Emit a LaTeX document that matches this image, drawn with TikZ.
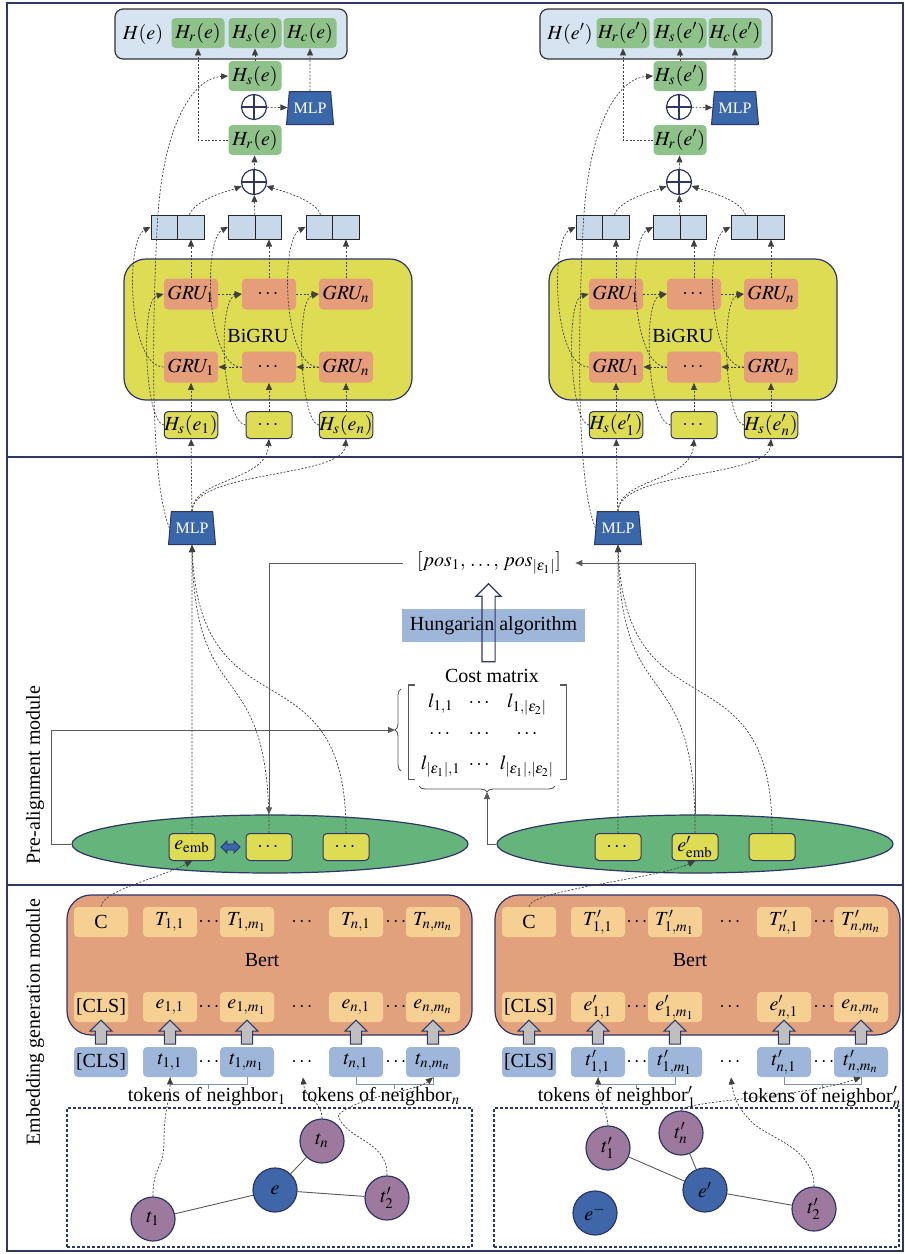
\documentclass[tikz,border=0pt]{standalone}
\usepackage{mathptmx}
\usepackage[no-math]{fontspec}
\setmainfont{Liberation Serif}
\usepackage{tikz}
\usetikzlibrary{arrows.meta, positioning, shapes.geometric, shapes.arrows, decorations.pathreplacing}
\usepackage{xcolor}
\usepackage{amsmath}

\definecolor{navyline}{RGB}{46,54,104}
\definecolor{barblue}{RGB}{214,228,241}
\definecolor{catblue}{RGB}{200,216,235}
\definecolor{boxgreen}{RGB}{143,193,138}
\definecolor{mlpblue}{RGB}{58,102,170}
\definecolor{gruyellow}{RGB}{222,220,82}
\definecolor{grusalmon}{RGB}{229,157,122}
\definecolor{bertorange}{RGB}{226,161,125}
\definecolor{bertcell}{RGB}{245,208,146}
\definecolor{tokblue}{RGB}{158,182,218}
\definecolor{ellgreen}{RGB}{100,180,124}
\definecolor{nbrpurple}{RGB}{158,121,158}
\definecolor{entblue}{RGB}{62,102,168}

\begin{document}
\begin{tikzpicture}[
>={Triangle[length=3.5pt,width=3pt]},
x=0.5pt, y=-0.5pt,
font=\fontsize{10}{12}\selectfont,
every node/.style={inner sep=0pt},
flow/.style={->, dash pattern=on 1pt off 0.8pt, line width=0.35pt, draw=black!75},
wire/.style={line width=0.45pt, draw=black!65},
tokline/.style={line width=0.45pt, draw=tokblue!80!black},
frameline/.style={draw=navyline, line width=0.7pt},
hbar/.style={draw=black!80, line width=0.6pt, fill=barblue, rounded corners=4pt, minimum width=116pt, minimum height=25pt},
gbox/.style={fill=boxgreen, rounded corners=2pt, minimum width=26.5pt, minimum height=15pt},
obox/.style={fill=grusalmon, rounded corners=2pt, minimum width=27pt, minimum height=15.5pt},
ybox/.style={draw=navyline, line width=0.5pt, fill=gruyellow, rounded corners=2pt, minimum width=23pt, minimum height=13.5pt},
cbox/.style={fill=bertcell, rounded corners=2pt, minimum width=27pt, minimum height=15pt},
tbox/.style={fill=tokblue, rounded corners=2pt, minimum width=27pt, minimum height=15pt},
gap/.style={minimum width=10pt, minimum height=15pt},
catbox/.style={draw=black!85, line width=0.5pt, fill=catblue, minimum width=26.5pt, minimum height=12pt,
  path picture={\draw[black!85, line width=0.5pt] (path picture bounding box.north) -- (path picture bounding box.south);}},
plus/.style={circle, draw=navyline, line width=0.6pt, fill=white, minimum size=12.5pt,
  path picture={\draw[navyline, line width=0.6pt] (path picture bounding box.north) -- (path picture bounding box.south)
    (path picture bounding box.west) -- (path picture bounding box.east);}},
mlp/.style={trapezium, trapezium angle=78, trapezium stretches=true, minimum width=23.5pt, minimum height=16.5pt,
  fill=mlpblue, draw=navyline, line width=0.5pt, text=white, font=\fontsize{8}{9}\selectfont},
bigru/.style={draw=navyline, line width=0.6pt, fill=gruyellow, rounded corners=11pt, minimum width=144pt, minimum height=70.5pt},
bertbox/.style={draw=navyline, line width=0.6pt, fill=bertorange, rounded corners=12pt, minimum width=202.5pt, minimum height=70pt},
ellbox/.style={ellipse, draw=navyline, line width=0.6pt, fill=ellgreen, minimum width=198pt, minimum height=29pt},
graphbox/.style={draw=navyline, line width=0.6pt, dash pattern=on 1.5pt off 1pt, minimum width=202.5pt, minimum height=69.5pt},
nbr/.style={circle, draw=navyline, line width=0.6pt, fill=nbrpurple, minimum size=22pt},
ent/.style={circle, draw=navyline, line width=0.6pt, fill=entblue, minimum size=22pt},
hung/.style={fill=tokblue, minimum width=91.5pt, minimum height=16.5pt},
hollow/.style={single arrow, shape border rotate=90, draw=navyline, line width=0.6pt, inner sep=3pt, minimum height=39pt, single arrow head extend=3pt},
lift/.style={single arrow, shape border rotate=90, draw=navyline, line width=0.5pt, fill=black!25, inner sep=2.6pt, minimum height=12pt, single arrow head extend=2.6pt},
dbl/.style={double arrow, draw=navyline, line width=0.4pt, fill=mlpblue, inner sep=1.3pt, minimum height=9.5pt, double arrow head extend=1.5pt},
]
\useasboundingbox (0,0) rectangle (905,1254);

%% frame and module labels
\draw[frameline] (7,3) rectangle (903,1251);
\draw[frameline] (7,457) -- (903,457);
\draw[frameline] (7,885) -- (903,885);
\node[rotate=90] (pam) at (35,775) {Pre-alignment module};
\node[rotate=90] (egm) at (35,1022) {Embedding generation module};

%% entity e: BiGRU encoder
% nodes
\node[hbar] (top) at (231,34) {};
\node (He) at (143,34) {$H(e)$};
\node[gbox] (Hr) at (198,33) {$H_r(e)$};
\node[gbox] (Hs) at (255,33) {$H_s(e)$};
\node[gbox] (Hc) at (310,33) {$H_c(e)$};
\node[gbox] (Hs2) at (255,76) {$H_s(e)$};
\node[plus] (p1) at (254,107) {};
\node[mlp] (M) at (310,108) {MLP};
\node[gbox] (Hr2) at (255,140) {$H_r(e)$};
\node[plus] (p2) at (254,182) {};
\node[catbox] (c1) at (177.5,227) {};
\node[catbox] (c2) at (255,227) {};
\node[catbox] (c3) at (332.5,227) {};
\node[bigru] (G) at (268,329.5) {};
\node (Gl) at (258,336) {BiGRU};
\node[obox] (f1) at (191,294) {$GRU_1$};
\node[obox] (f2) at (269,294) {$\cdots$};
\node[obox] (f3) at (346,294) {$GRU_n$};
\node[obox] (b1) at (191,367) {$GRU_1$};
\node[obox] (b2) at (269,367) {$\cdots$};
\node[obox] (b3) at (346,367) {$GRU_n$};
\node[ybox] (i1) at (191,425) {$H_s(e_1)$};
\node[ybox] (i2) at (269,425) {$\cdots$};
\node[ybox] (i3) at (346,425) {$H_s(e_n)$};
% arrows
\draw[flow] (f1) -- (f2);
\draw[flow] (f2) -- (f3);
\draw[flow] (b3) -- (b2);
\draw[flow] (b2) -- (b1);
\draw[flow] (i1) -- (b1);
\draw[flow] (i2) -- (b2);
\draw[flow] (i3) -- (b3);
\draw[flow] (i1.west) .. controls (145,422) and (140,300) .. (f1.west);
\draw[flow] (i2.west) .. controls (222,422) and (217,300) .. (f2.west);
\draw[flow] (i3.west) .. controls (300,422) and (295,300) .. (f3.west);
\draw[flow] (f1) -- (f1 |- c1.south);
\draw[flow] (f2) -- (f2 |- c2.south);
\draw[flow] (f3) -- (f3 |- c3.south);
\draw[flow] (b1.west) .. controls (128,367) and (125,240) .. (c1.west);
\draw[flow] (b2.west) .. controls (206,367) and (203,240) .. (c2.west);
\draw[flow] (b3.west) .. controls (283,367) and (280,240) .. (c3.west);
\draw[flow] ([xshift=6pt]c1.north) .. controls (195,200) and (225,192) .. (p2);
\draw[flow] (c2) -- (p2);
\draw[flow] ([xshift=-6pt]c3.north) .. controls (315,200) and (285,192) .. (p2);
\draw[flow] (p2) -- (Hr2);
\draw[flow] (Hr2.west) -| (Hr.south);
\draw[flow] (Hs2) -- (Hs);
\draw[flow] (p1) -- (M);
\draw[flow] (M) -- (Hc);

% MLP feeding the BiGRU
\node[mlp] (mlpL) at (192,528) {MLP};
\draw[flow] (mlpL) -- (i1);
\draw[flow] (mlpL.north) .. controls (193,478) and (266,482) .. (i2.south);
\draw[flow] (mlpL.north) .. controls (195,470) and (343,478) .. (i3.south);
\draw[flow] (mlpL.west) .. controls (150,480) and (152,330) .. (157,230) .. controls (162,120) and (195,78) .. (Hs2.west);

%% entity e': BiGRU encoder
\begin{scope}[xshift=212.5pt]
% nodes
\node[hbar] (top) at (231,34) {};
\node (He) at (145,34) {$H(e')$};
\node[gbox] (Hr) at (198,33) {$H_r(e')$};
\node[gbox] (Hs) at (255,33) {$H_s(e')$};
\node[gbox] (Hc) at (310,33) {$H_c(e')$};
\node[gbox] (Hs2) at (255,76) {$H_s(e')$};
\node[plus] (p1) at (254,107) {};
\node[mlp] (M) at (310,108) {MLP};
\node[gbox] (Hr2) at (255,140) {$H_r(e')$};
\node[plus] (p2) at (254,182) {};
\node[catbox] (c1) at (177.5,227) {};
\node[catbox] (c2) at (255,227) {};
\node[catbox] (c3) at (332.5,227) {};
\node[bigru] (G) at (268,329.5) {};
\node (Gl) at (258,336) {BiGRU};
\node[obox] (f1) at (191,294) {$GRU_1$};
\node[obox] (f2) at (269,294) {$\cdots$};
\node[obox] (f3) at (346,294) {$GRU_n$};
\node[obox] (b1) at (191,367) {$GRU_1$};
\node[obox] (b2) at (269,367) {$\cdots$};
\node[obox] (b3) at (346,367) {$GRU_n$};
\node[ybox] (i1) at (191,425) {$H_s(e'_1)$};
\node[ybox] (i2) at (269,425) {$\cdots$};
\node[ybox] (i3) at (346,425) {$H_s(e'_n)$};
% arrows
\draw[flow] (f1) -- (f2);
\draw[flow] (f2) -- (f3);
\draw[flow] (b3) -- (b2);
\draw[flow] (b2) -- (b1);
\draw[flow] (i1) -- (b1);
\draw[flow] (i2) -- (b2);
\draw[flow] (i3) -- (b3);
\draw[flow] (i1.west) .. controls (145,422) and (140,300) .. (f1.west);
\draw[flow] (i2.west) .. controls (222,422) and (217,300) .. (f2.west);
\draw[flow] (i3.west) .. controls (300,422) and (295,300) .. (f3.west);
\draw[flow] (f1) -- (f1 |- c1.south);
\draw[flow] (f2) -- (f2 |- c2.south);
\draw[flow] (f3) -- (f3 |- c3.south);
\draw[flow] (b1.west) .. controls (128,367) and (125,240) .. (c1.west);
\draw[flow] (b2.west) .. controls (206,367) and (203,240) .. (c2.west);
\draw[flow] (b3.west) .. controls (283,367) and (280,240) .. (c3.west);
\draw[flow] ([xshift=6pt]c1.north) .. controls (195,200) and (225,192) .. (p2);
\draw[flow] (c2) -- (p2);
\draw[flow] ([xshift=-6pt]c3.north) .. controls (315,200) and (285,192) .. (p2);
\draw[flow] (p2) -- (Hr2);
\draw[flow] (Hr2.west) -| (Hr.south);
\draw[flow] (Hs2) -- (Hs);
\draw[flow] (p1) -- (M);
\draw[flow] (M) -- (Hc);
\end{scope}

% MLP feeding the BiGRU
\node[mlp] (mlpR) at (618,528) {MLP};
\draw[flow] (mlpR) -- (i1);
\draw[flow] (mlpR.north) .. controls (619,478) and (691,482) .. (i2.south);
\draw[flow] (mlpR.north) .. controls (621,470) and (768,478) .. (i3.south);
\draw[flow] (mlpR.west) .. controls (576,480) and (578,330) .. (583,230) .. controls (588,120) and (620,78) .. (Hs2.west);

%% pre-alignment: cost matrix and Hungarian algorithm
\node[inner xsep=7pt] (pos) at (489,563) {$[pos_1,\, \ldots,\, pos_{|\varepsilon_1|}]$};
\node[hung] (hung) at (493.5,625.5) {Hungarian algorithm};
\node[hollow] (up) at (488.5,626) {};
\node (cost) at (492,676) {Cost matrix};
\node[inner xsep=4pt] (L) at (487.5,732) {{\arraycolsep=2pt\def\arraystretch{1.3}%
  $\begin{array}{ccc}
  l_{1,1} & \cdots & l_{1,|\varepsilon_2|}\\
  \cdots & \cdots & \cdots\\
  l_{|\varepsilon_1|,1} & \cdots & l_{|\varepsilon_1|,|\varepsilon_2|}
  \end{array}$}};
\draw[wire, line width=0.7pt] ([xshift=3pt]L.north west) -- (L.north west) -- (L.south west) -- ([xshift=3pt]L.south west);
\draw[wire, line width=0.7pt] ([xshift=-3pt]L.north east) -- (L.north east) -- (L.south east) -- ([xshift=-3pt]L.south east);
\draw[wire, decorate, decoration={brace, amplitude=3pt}] (401,771) -- (401,689);
\coordinate (bl) at (395,730);
\draw[wire, decorate, decoration={brace, amplitude=3pt}] (555,786) -- (419,786);
\coordinate (bb) at (487,792);

% entity embeddings of e
\node[ellbox] (E1) at (270,844) {};
\node[ybox] (embL) at (192,847) {$e_{\mathrm{emb}}$};
\node[ybox] (d1) at (269,847) {$\cdots$};
\node[ybox] (d2) at (346,847) {$\cdots$};
\node[dbl] (sw) at (230.5,847) {};
\draw[flow] (embL) -- (mlpL);
\draw[flow] (d1.north) .. controls (270,650) and (195,720) .. (mlpL.south);
\draw[flow] (d2.north) .. controls (347,640) and (200,740) .. (mlpL.south);
\draw[wire,->] (pos.west) -| (d1.north |- E1.north);
\draw[wire,->] (E1.west) -- ++(-20,0) |- (bl);

% entity embeddings of e'
\node[ellbox] (E2) at (695,844) {};
\node[ybox] (r1) at (618,847) {$\cdots$};
\node[ybox] (embR) at (695,847) {$e'_{\mathrm{emb}}$};
\node[ybox] (r3) at (772,847) {};
\draw[flow] (r1) -- (mlpR);
\draw[flow] (embR.north) .. controls (696,650) and (621,720) .. (mlpR.south);
\draw[flow] (r3.north) .. controls (773,640) and (626,740) .. (mlpR.south);
\draw[wire,->] (embR.north |- E2.north) |- (pos.east);
\draw[wire,->] (E2.west) -| (bb);

%% Bert for e
% nodes
\node[bertbox] (B) at (269.5,965) {};
\node (Bl) at (262,960) {Bert};
\node[cbox] (C) at (101,922) {C};
\node[cbox] (T11) at (170,922) {$T_{1,1}$};
\node[gap] (ta1) at (210,922) {$\cdots$};
\node[cbox] (T1m) at (247,922) {$T_{1,m_1}$};
\node[gap] (ta2) at (303,922) {$\cdots$};
\node[cbox] (Tn1) at (356,922) {$T_{n,1}$};
\node[gap] (ta3) at (397,922) {$\cdots$};
\node[cbox] (Tnm) at (433,922) {$T_{n,m_n}$};
\node[cbox] (cls) at (101,1007) {[CLS]};
\node[cbox] (e11) at (170,1007) {$e_{1,1}$};
\node[gap] (eb1) at (210,1007) {$\cdots$};
\node[cbox] (e1m) at (247,1007) {$e_{1,m_1}$};
\node[gap] (eb2) at (303,1007) {$\cdots$};
\node[cbox] (en1) at (356,1007) {$e_{n,1}$};
\node[gap] (eb3) at (397,1007) {$\cdots$};
\node[cbox] (enm) at (433,1007) {$e_{n,m_n}$};
\node[tbox] (k0) at (101,1062) {[CLS]};
\node[tbox] (k11) at (170,1062) {$t_{1,1}$};
\node[gap] (kg1) at (210,1062) {$\cdots$};
\node[tbox] (k1m) at (247,1062) {$t_{1,m_1}$};
\node[gap] (kg2) at (303,1062) {$\cdots$};
\node[tbox] (kn1) at (356,1062) {$t_{n,1}$};
\node[gap] (kg3) at (397,1062) {$\cdots$};
\node[tbox] (knm) at (433,1062) {$t_{n,m_n}$};
\node[lift] (u0) at (101,1035) {};
\node[lift] (u1) at (170,1035) {};
\node[lift] (u2) at (247,1035) {};
\node[lift] (u3) at (356,1035) {};
\node[lift] (u4) at (433,1035) {};
\coordinate (g1) at (208,1084);
\coordinate (g2) at (394.5,1084);
\draw[tokline] (k11.south) |- (g1) -| (k1m.south);
\draw[tokline] (g1) -- ++(0,5);
\draw[tokline] (kn1.south) |- (g2) -| (knm.south);
\draw[tokline] (g2) -- ++(0,5);
\node (nb1) at (207,1097) {tokens of neighbor$_1$};
\node (nbn) at (381,1097) {tokens of neighbor$_n$};
% neighbourhood graph of e
\node[graphbox] (N) at (269.5,1177.5) {};
\node[nbr] (t1) at (153,1219) {$t_1$};
\node[ent] (e) at (275,1190) {$e$};
\node[nbr] (tn) at (322,1141) {$t_n$};
\node[nbr] (t2) at (387,1198) {$t'_2$};
\draw[wire] (e) -- (t1);
\draw[wire] (e) -- (tn);
\draw[wire] (e) -- (t2);
% arrows
\draw[flow] (t1.north) .. controls (153,1165) and (164,1170) .. (164,1140) .. controls (164,1110) and (170,1100) .. (k11.south);
\draw[flow] (tn.north) .. controls (322,1100) and (305,1100) .. (kg2.south);
\draw[flow] (t2.north) .. controls (388,1140) and (345,1140) .. (338,1115) .. controls (360,1095) and (415,1092) .. (knm.south);
\draw[flow] (C.north) .. controls (103,890) and (160,878) .. (embL.south);

%% Bert for e'
\begin{scope}[xshift=214pt]
% nodes
\node[bertbox] (B) at (269.5,965) {};
\node (Bl) at (262,960) {Bert};
\node[cbox] (C) at (101,922) {C};
\node[cbox] (T11) at (170,922) {$T'_{1,1}$};
\node[gap] (ta1) at (210,922) {$\cdots$};
\node[cbox] (T1m) at (247,922) {$T'_{1,m_1}$};
\node[gap] (ta2) at (303,922) {$\cdots$};
\node[cbox] (Tn1) at (356,922) {$T'_{n,1}$};
\node[gap] (ta3) at (397,922) {$\cdots$};
\node[cbox] (Tnm) at (433,922) {$T'_{n,m_n}$};
\node[cbox] (cls) at (101,1007) {[CLS]};
\node[cbox] (e11) at (170,1007) {$e'_{1,1}$};
\node[gap] (eb1) at (210,1007) {$\cdots$};
\node[cbox] (e1m) at (247,1007) {$e'_{1,m_1}$};
\node[gap] (eb2) at (303,1007) {$\cdots$};
\node[cbox] (en1) at (356,1007) {$e'_{n,1}$};
\node[gap] (eb3) at (397,1007) {$\cdots$};
\node[cbox] (enm) at (433,1007) {$e_{n,m_n}$};
\node[tbox] (k0) at (101,1062) {[CLS]};
\node[tbox] (k11) at (170,1062) {$t'_{1,1}$};
\node[gap] (kg1) at (210,1062) {$\cdots$};
\node[tbox] (k1m) at (247,1062) {$t'_{1,m_1}$};
\node[gap] (kg2) at (303,1062) {$\cdots$};
\node[tbox] (kn1) at (356,1062) {$t'_{n,1}$};
\node[gap] (kg3) at (397,1062) {$\cdots$};
\node[tbox] (knm) at (433,1062) {$t'_{n,m_n}$};
\node[lift] (u0) at (101,1035) {};
\node[lift] (u1) at (170,1035) {};
\node[lift] (u2) at (247,1035) {};
\node[lift] (u3) at (356,1035) {};
\node[lift] (u4) at (433,1035) {};
\coordinate (g1) at (208,1084);
\coordinate (g2) at (394.5,1084);
\draw[tokline] (k11.south) |- (g1) -| (k1m.south);
\draw[tokline] (g1) -- ++(0,5);
\draw[tokline] (kn1.south) |- (g2) -| (knm.south);
\draw[tokline] (g2) -- ++(0,5);
\end{scope}
\node (nb1) at (617,1097) {tokens of neighbor$'_1$};
\node (nbn) at (822,1097) {tokens of neighbor$'_n$};
% neighbourhood graph of e'
\node[graphbox] (N) at (696.5,1177.5) {};
\node[nbr] (ta) at (608,1148) {$t'_1$};
\node[nbr] (tb) at (681,1133) {$t'_n$};
\node[ent] (e) at (705,1190) {$e'$};
\node[nbr] (tc) at (814,1209) {$t'_2$};
\node[ent] (eneg) at (595,1213) {$e^-$};
\draw[wire] (e) -- (ta);
\draw[wire] (e) -- (tb);
\draw[wire] (e) -- (tc);
% arrows
\draw[flow] (ta.north) .. controls (606,1105) and (598,1100) .. (k11.south);
\draw[flow] (tb.north) .. controls (688,1100) and (800,1098) .. (knm.south);
\draw[flow] (tc.north) .. controls (814,1150) and (775,1140) .. (755,1125) .. controls (738,1110) and (733,1095) .. (kg2.south);
\draw[flow] (C.north) .. controls (530,890) and (660,878) .. (embR.south);
\end{tikzpicture}
\end{document}
